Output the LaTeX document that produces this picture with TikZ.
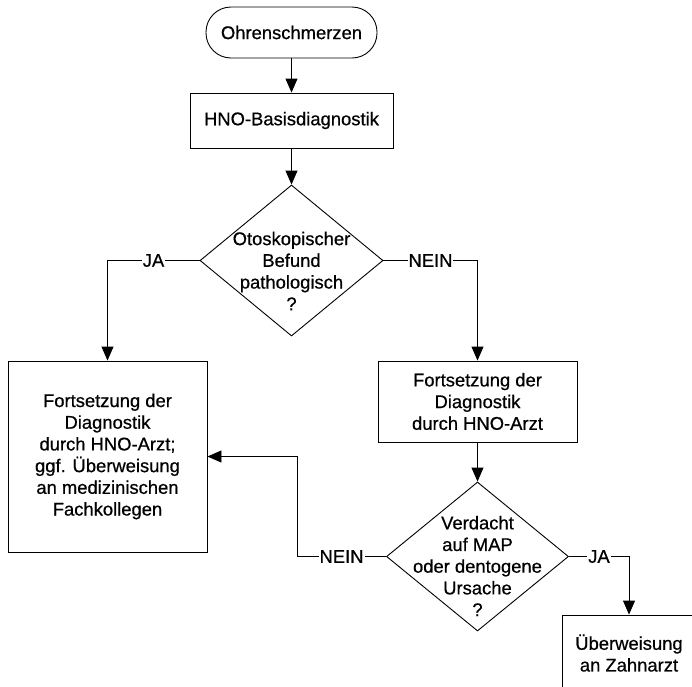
\documentclass[tikz,border=0pt]{standalone}
\usepackage{fontspec}
\setmainfont{Liberation Sans}[FakeBold=0.6]
\usetikzlibrary{shapes.geometric,arrows.meta}
\begin{document}
\begin{tikzpicture}[x=1pt,y=1pt,
  every node/.style={font=\fontsize{18.4}{21.7}\selectfont},
  box/.style={draw,line width=0.9pt,rectangle,inner sep=0pt,align=center},
  term/.style={draw,line width=0.9pt,rectangle,rounded corners=25pt,inner sep=0pt},
  decision/.style={draw,line width=0.9pt,diamond,inner sep=0pt},
  dtext/.style={align=center,inner sep=0pt},
  lbl/.style={fill=white,inner sep=1pt},
  arr/.style={line width=0.9pt,-{Triangle[length=14pt,width=12pt]}},
  conn/.style={line width=0.9pt}]
\useasboundingbox (0,0) rectangle (692,-686);
\clip (0,0) rectangle (692,-686);
\fill[white] (0,0) rectangle (692,-686);
% nodes
\node[term,minimum width=171,minimum height=51] (start) at (291.5,-32.5) {Ohrenschmerzen};
\node[box,minimum width=203,minimum height=55] (basis) at (291.5,-120.5) {HNO-Basisdiagnostik};
\node[decision,minimum width=183,minimum height=151] (d1) at (291.5,-260.5) {};
\node[dtext] (d1t) at (291.5,-271) {Otoskopischer\\Befund\\pathologisch\\?};
\node[box,minimum width=199,minimum height=191] (lbox) at (107.5,-456.5)
  {Fortsetzung der\\Diagnostik\\durch HNO-Arzt;\\ggf. Überweisung\\an medizinischen\\Fachkollegen};
\node[box,minimum width=199,minimum height=81] (rbox) at (477.5,-401.5)
  {Fortsetzung der\\Diagnostik\\durch HNO-Arzt};
\node[decision,minimum width=182,minimum height=149] (d2) at (477.5,-556.5) {};
\node[dtext] (d2t) at (477.5,-566) {Verdacht\\auf MAP\\oder dentogene\\Ursache\\?};
\node[box,minimum width=134,minimum height=76] (zahn) at (629,-653) {Überweisung\\an Zahnarzt};
\coordinate (k1) at (297,-556.5);
% connectors
\draw[arr] (start.south) -- (basis.north);
\draw[arr] (basis.south) -- (d1.north);
\draw[arr] (d1.west) -| node[lbl,pos=0.25]{JA} (lbox.north);
\draw[arr] (d1.east) -| node[lbl,pos=0.25]{NEIN} (rbox.north);
\draw[arr] (rbox.south) -- (d2.north);
\draw[conn] (d2.west) -- node[lbl]{NEIN} (k1);
\draw[arr] (k1) |- (lbox.east);
\draw[arr] (d2.east) -| node[lbl,pos=0.25]{JA} (zahn.north);
\end{tikzpicture}
\end{document}
